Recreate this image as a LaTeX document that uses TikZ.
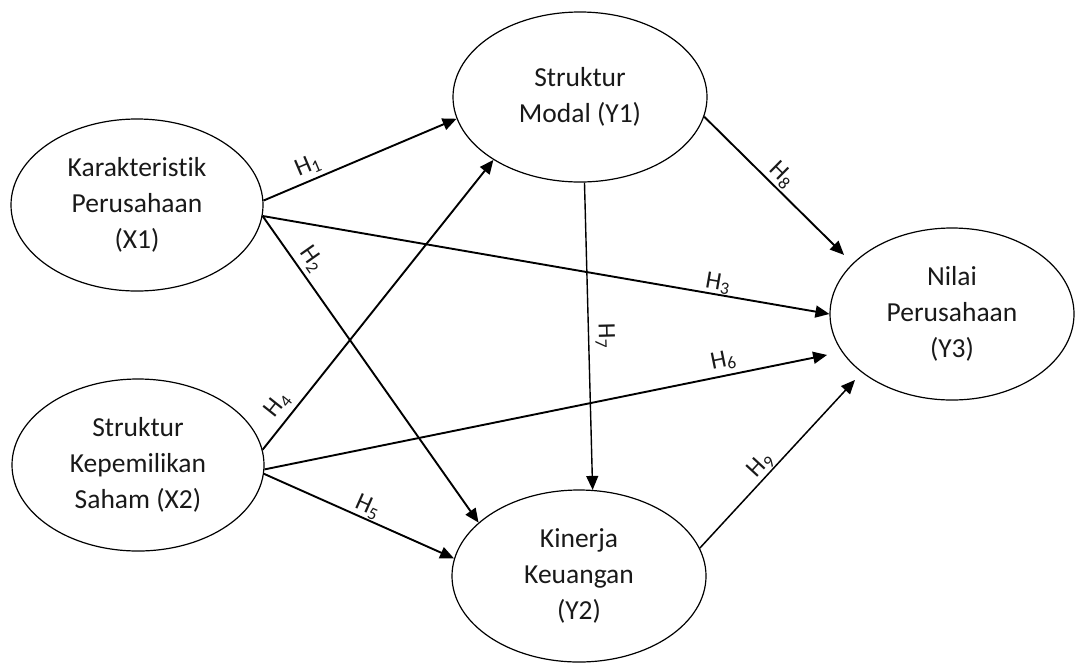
\documentclass[tikz,border=0pt]{standalone}
\usepackage{fontspec}
\setmainfont{Carlito}[Ligatures={NoCommon}]
\usetikzlibrary{arrows.meta, shapes.geometric}

\newcommand{\hyp}[1]{H\textsubscript{#1}}

\begin{document}
\begin{tikzpicture}[
      x = 1pt, y = -1pt, % pixel coordinates, y downwards
      > = {Triangle[length=14pt, width=12pt]}, % arrow head style
      line width = 1.9pt, % line style
    ]

    \tikzstyle{factor}=[
      ellipse,
      draw = black,
      line width = 1.2pt,
      minimum width = 252pt,
      minimum height = 172pt,
      inner sep = 0pt,
      align = center,
      text = black!90,
      font = \fontsize{27.5}{36}\selectfont
    ]
    \tikzstyle{hlabel}=[
      sloped, above,
      inner sep = 1pt,
      text = black!90,
      font = \fontsize{25}{26}\selectfont
    ]

    \useasboundingbox (0, 0) rectangle (1075, 662);

    \node[factor] (x1) at (137, 205) {Karakteristik\\Perusahaan\\(X1)};
    \node[factor] (x2) at (138, 465) {Struktur\\Kepemilikan\\Saham (X2)};
    \node[factor, minimum width = 254pt, minimum height = 170pt] (y1) at (580, 97) {Struktur\\Modal (Y1)};
    \node[factor, minimum width = 254pt] (y2) at (579, 576) {Kinerja\\Keuangan\\(Y2)};
    \node[factor, minimum width = 244pt] (y3) at (952, 314) {Nilai\\Perusahaan\\(Y3)};

    \path[->] (x1.2) edge node[hlabel, pos = 0.26, inner sep = 4pt] {\hyp{1}} (y1.190);
    \path[->] (x1.-5) edge node[hlabel, pos = 0.17, inner sep = 4pt] {\hyp{2}} (y2.152);
    \path[->] (x1.-5) edge node[hlabel, pos = 0.80, inner sep = 0pt] {\hyp{3}} (y3.180);
    \path[->] (x2.7) edge node[hlabel, pos = 0.12, inner sep = 5pt] {\hyp{4}} (y1.216);
    \path[->] (x2.-4) edge node[hlabel, pos = 0.52] {\hyp{5}} (y2.172);
    \path[->] (x2.-2) edge[shorten > = 15pt] node[hlabel, pos = 0.80, inner sep = 4pt] {\hyp{6}} (y3.199);
    \path[->, line width = 1.4pt] (y1.-87) edge node[hlabel, pos = 0.5, inner sep = 6pt] {\hyp{7}} (y2.81);
    \path[->] (y1.-9) edge[shorten > = 12pt] node[hlabel, pos = 0.46, inner sep = 2pt] {\hyp{8}} (y3.153);
    \path[->, line width = 1.5pt] (y2.13) edge[shorten > = 10pt] node[hlabel, pos = 0.43, inner sep = 1pt] {\hyp{9}} (y3.213);
  \end{tikzpicture}
\end{document}
